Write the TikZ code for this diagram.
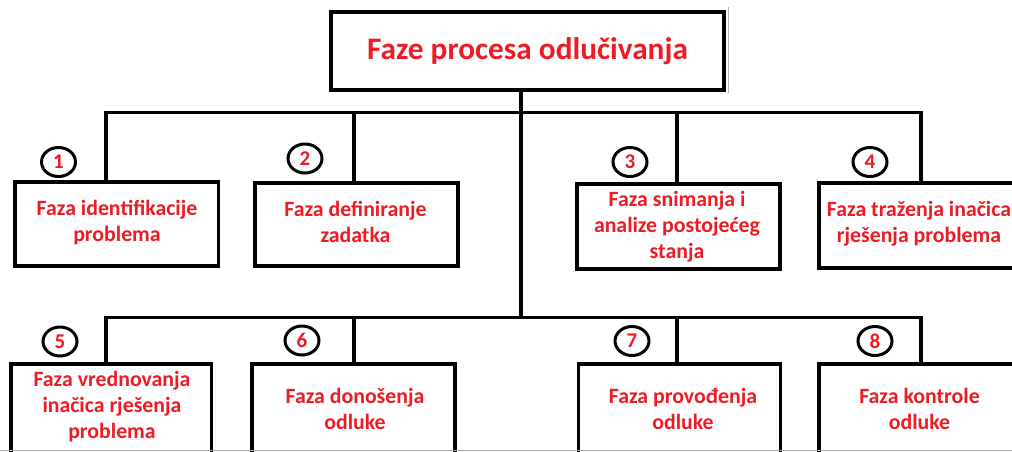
\documentclass[tikz,border=0pt]{standalone}
\usepackage{fontspec}
\setmainfont{Carlito}
\usetikzlibrary{shapes.geometric}
\definecolor{txtred}{HTML}{ED1C24}
\tikzset{
  box/.style={draw=black, line width=3.5pt, rectangle, inner sep=0pt, fill=white},
  boxtext/.style={text=txtred, font=\fontsize{21.8}{26}\selectfont\bfseries, align=center, inner sep=0pt},
  numcirc/.style={draw=black, line width=3pt, ellipse, minimum width=34pt, minimum height=29pt, inner sep=0pt,
                  text=txtred, font=\fontsize{21}{24}\selectfont\bfseries},
  conn/.style={draw=black, line width=3.5pt},
  trunk/.style={draw=black, line width=4pt}
}
\begin{document}
\begin{tikzpicture}[x=1pt, y=-1pt]
\clip (0,0) rectangle (1012,451);
\fill[white] (0,0) rectangle (1012,451);

% title
\node[box, minimum width=393pt, minimum height=78pt, text=txtred,
      font=\fontsize{31.3}{36}\selectfont\bfseries] (title) at (527.5,51) {Faze procesa odlučivanja};
\draw[gray!60, line width=1pt] (728.5,7) -- (728.5,93);

% boxes row 1
\node[box, minimum width=203.5pt, minimum height=84pt] (b1) at (116.75,224) {};
\node[box, minimum width=203pt, minimum height=83pt] (b2) at (356.5,224.5) {};
\node[box, minimum width=203pt, minimum height=85pt] (b3) at (678.5,226.5) {};
\node[box, minimum width=204pt, minimum height=85pt] (b4) at (921,225.5) {};
% boxes row 2
\node[box, minimum width=200.5pt, minimum height=100pt] (b5) at (111.25,414) {};
\node[box, minimum width=203pt, minimum height=100pt] (b6) at (353.5,414) {};
\node[box, minimum width=202pt, minimum height=100pt] (b7) at (679.5,414) {};
\node[box, minimum width=204pt, minimum height=100pt] (b8) at (921,414) {};

% texts
\node[boxtext] (t1) at (117,222.5) {Faza identifikacije\\problema};
\node[boxtext] (t2) at (355.5,222) {Faza definiranje\\zadatka};
\node[boxtext] (t3) at (677,226.5) {Faza snimanja i\\analize postojećeg\\stanja};
\node[boxtext] (t4) at (919,224) {Faza traženja inačica\\rješenja problema};
\node[boxtext] (t5) at (112,406.5) {Faza vrednovanja\\inačica rješenja\\problema};
\node[boxtext] (t6) at (355,408.5) {Faza donošenja\\odluke};
\node[boxtext] (t7) at (683,409) {Faza provođenja\\odluke};
\node[boxtext] (t8) at (919.5,409) {Faza kontrole\\odluke};

% junction coordinates
\coordinate (top1) at (106,112.5);
\coordinate (top2) at (354,112.5);
\coordinate (topm) at (521,112.5);
\coordinate (top3) at (677,112.5);
\coordinate (top4) at (921,112.5);
\coordinate (bot1) at (106,317.5);
\coordinate (bot2) at (354,317.5);
\coordinate (botm) at (521,317.5);
\coordinate (bot3) at (677,317.5);
\coordinate (bot4) at (921,317.5);

% connectors
\draw[trunk] (title.south -| topm) -- (botm);
\draw[conn] ([xshift=-1.75pt]top1) -- ([xshift=1.75pt]top4);
\draw[conn] ([xshift=-1.75pt]bot1) -- ([xshift=1.75pt]bot4);
\draw[conn] (top1) -- (top1 |- b1.north);
\draw[conn] (top2) -- (top2 |- b2.north);
\draw[conn] (top3) -- (top3 |- b3.north);
\draw[conn] (top4) -- (top4 |- b4.north);
\draw[conn] (bot1) -- (bot1 |- b5.north);
\draw[conn] (bot2) -- (bot2 |- b6.north);
\draw[conn] (bot3) -- (bot3 |- b7.north);
\draw[conn] (bot4) -- (bot4 |- b8.north);

% number circles
\node[numcirc] (n1) at (58.5,162) {1};
\node[numcirc] (n2) at (305,158.5) {2};
\node[numcirc] (n3) at (630,162) {3};
\node[numcirc] (n4) at (870,162) {4};
\node[numcirc] (n5) at (60,341.5) {5};
\node[numcirc] (n6) at (302,340.5) {6};
\node[numcirc] (n7) at (632,341) {7};
\node[numcirc] (n8) at (875,341) {8};

% bottom border line
\draw[gray!70, line width=1pt] (0,450.5) -- (1012,450.5);
\end{tikzpicture}
\end{document}
